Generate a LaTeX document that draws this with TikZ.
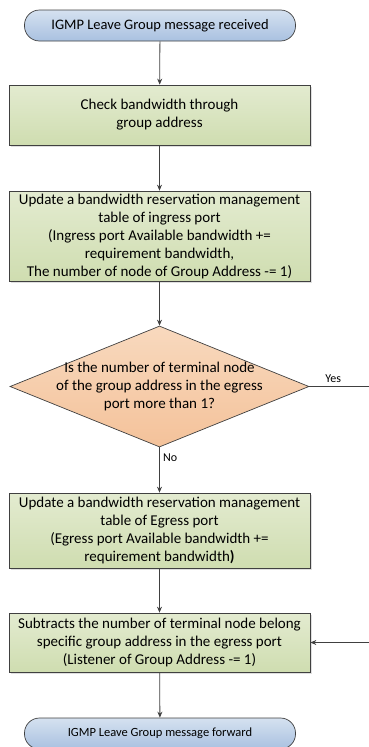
\documentclass[tikz,border=0pt]{standalone}
\usepackage{fontspec}
\setmainfont{Carlito}
\usepackage{tikz}
\usetikzlibrary{arrows.meta, shadows, shapes, positioning}
\definecolor{igmpblue}{HTML}{A9C1E0}
\definecolor{igmpbluetop}{HTML}{D5E1F0}
\definecolor{procgreen}{HTML}{CFDDB0}
\definecolor{procgreentop}{HTML}{E3EBD0}
\definecolor{decorange}{HTML}{F4C29A}
\definecolor{decorangetop}{HTML}{F8D9BE}
\definecolor{edgegray}{HTML}{404040}

\begin{document}
\begin{tikzpicture}[x=1pt, y=1pt,
    terminal/.style={rectangle, rounded corners=15pt, draw=edgegray, line width=0.7pt,
      top color=igmpbluetop, bottom color=igmpblue, minimum width=271pt, minimum height=31pt,
      font=\fontsize{14.5}{17}\selectfont, text=black},
    procbox/.style={rectangle, draw=edgegray, line width=0.7pt, top color=procgreentop,
      bottom color=procgreen, minimum width=301pt, align=center, inner sep=0pt,
      font=\fontsize{15}{18}\selectfont, text=black,
      drop shadow={opacity=0.25, shadow xshift=2pt, shadow yshift=-2pt}},
    decision/.style={diamond, draw=edgegray, line width=0.7pt, top color=decorangetop,
      bottom color=decorange, minimum width=299pt, minimum height=121pt, inner sep=0pt},
    flow/.style={-{Stealth[length=6pt, width=5pt]}, draw=edgegray, line width=0.8pt},
    branch/.style={font=\fontsize{12}{14}\selectfont, text=black}]
  \useasboundingbox (0,0) rectangle (369,-747);
  % Inicio
  \node[terminal] (start) at (160,-25.5) {IGMP Leave Group message received};
  % Pasos de proceso
  \node[procbox, minimum height=60pt] (chk) at (159.5,-115) {Check bandwidth through\\group address};
  \node[procbox, minimum height=90pt] (ingr) at (159.5,-236) {Update a bandwidth reservation management\\table of ingress port\\(Ingress port Available bandwidth +=\\requirement bandwidth,\\The number of node of Group Address -= 1)};
  % Decision
  \node[decision] (dec) at (159.5,-386.5) {};
  \node[align=center, font=\fontsize{15}{18}\selectfont, text=black] (dectext) at (dec) {Is the number of terminal node\\of the group address in the egress\\port more than 1?};
  \node[procbox, minimum height=75pt] (egr) at (159.5,-530.5) {Update a bandwidth reservation management\\table of Egress port\\(Egress port Available bandwidth +=\\requirement bandwidth\textbf{)}};
  \node[procbox, minimum height=59pt] (sub) at (159.5,-642.5) {Subtracts the number of terminal node belong\\specific group address in the egress port\\(Listener of Group Address -= 1)};
  % Fin
  \node[terminal, font=\fontsize{12.5}{15}\selectfont] (stop) at (160,-733.5) {IGMP Leave Group message forward};
  % Conectores
  \draw[flow] (start) -- (chk);
  \draw[flow] (chk) -- (ingr);
  \draw[flow] (ingr) -- (dec);
  \draw[flow] (dec) -- node[branch, right, pos=0.22] (no) {No} (egr);
  \draw[flow] (egr) -- (sub);
  \draw[flow] (sub) -- (stop);
  % Rama Yes
  \coordinate (yesend) at (369,-386.5);
  \coordinate (backin) at (369,-642.5);
  \draw[edgegray, line width=0.8pt] (dec.east) -- node[branch, above, pos=0.4] (yes) {Yes} (yesend);
  \draw[flow] (backin) -- (sub.east);
\end{tikzpicture}
\end{document}
